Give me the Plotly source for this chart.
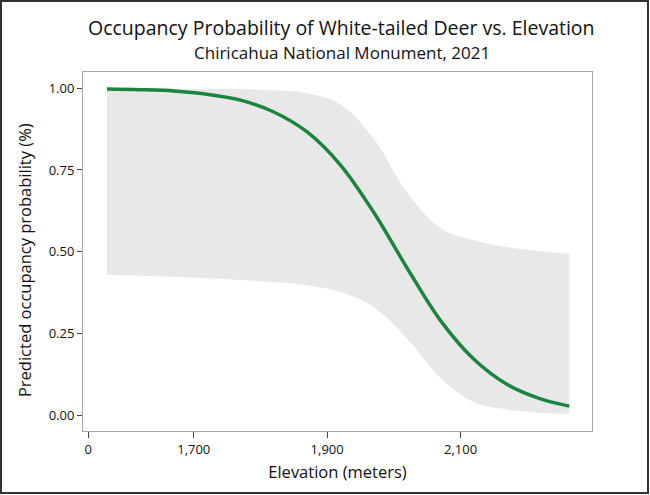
import plotly.graph_objects as go

# values
elevation = [1570, 1620, 1670, 1720, 1770, 1820, 1870, 1920, 1970, 2020, 2070, 2120, 2170, 2220, 2263]
occ_mean = [0.997, 0.995, 0.991, 0.981, 0.963, 0.927, 0.866, 0.765, 0.620, 0.450, 0.290, 0.172, 0.095, 0.051, 0.029]
occ_upper = [1.000, 0.999, 0.999, 0.998, 0.997, 0.993, 0.984, 0.950, 0.845, 0.680, 0.572, 0.535, 0.514, 0.502, 0.493]
occ_lower = [0.429, 0.427, 0.424, 0.419, 0.414, 0.408, 0.398, 0.378, 0.331, 0.235, 0.115, 0.041, 0.019, 0.008, 0.005]

# broken x axis: the "0" tick sits just right of the axis start
x_tickvals = [1542, 1700, 1900, 2100]
x_ticktext = ["0", "1,700", "1,900", "2,100"]
y_tickvals = [0, 0.25, 0.5, 0.75, 1.0]

FONT = "Open Sans"
INK = "#111"

fig = go.Figure()

# confidence band: lower edge, then upper edge filled down to it
fig.add_trace(go.Scatter(
    x=elevation, y=occ_lower,
    mode="lines", line=dict(width=0, shape="spline"),
    hoverinfo="skip", showlegend=False,
))
fig.add_trace(go.Scatter(
    x=elevation, y=occ_upper,
    mode="lines", line=dict(width=0, shape="spline"),
    fill="tonexty", fillcolor="#e8e8e8",
    hoverinfo="skip", showlegend=False,
))

fig.add_trace(go.Scatter(
    x=elevation, y=occ_mean,
    mode="lines",
    line=dict(color="#1b843f", width=3.5, shape="spline"),
    showlegend=False,
))

fig.update_layout(
    width=650, height=495,
    margin=dict(l=83, r=58, t=72, b=64),
    paper_bgcolor="white",
    plot_bgcolor="white",
    font=dict(family=FONT, color=INK),
    annotations=[
        dict(text="Occupancy Probability of White-tailed Deer vs. Elevation",
             x=0.508, y=1.1226, xref="paper", yref="paper", yanchor="middle",
             showarrow=False, font=dict(size=19.5, family=FONT, color=INK)),
        dict(text="Chiricahua National Monument, 2021",
             x=0.508, y=1.0557, xref="paper", yref="paper", yanchor="middle",
             showarrow=False, font=dict(size=17, family=FONT, color=INK)),
        dict(text="Predicted occupancy probability (%)", textangle=-90,
             x=-0.116, y=0.476, xref="paper", yref="paper",
             xanchor="center", yanchor="middle",
             showarrow=False, font=dict(size=16.5, family=FONT, color=INK)),
    ],
    shapes=[
        # dark frame around the whole picture
        dict(type="rect", xref="paper", yref="paper",
             x0=-0.1611, x1=1.1100, y0=-0.1727, y1=1.1978,
             line=dict(color="#333", width=2)),
    ],
)

fig.update_xaxes(
    range=[1534, 2297],
    tickvals=x_tickvals, ticktext=x_ticktext,
    ticks="outside", ticklen=6, tickcolor="#444", tickwidth=1,
    showline=True, mirror=True, linecolor="#a6a6a6", linewidth=1,
    showgrid=False, zeroline=False,
    tickfont=dict(size=13, family=FONT, color=INK),
    title=dict(text="Elevation (meters)", font=dict(size=16.5, family=FONT, color=INK), standoff=9),
)

fig.update_yaxes(
    range=[-0.047, 1.049],
    tickvals=y_tickvals, tickformat=".2f",
    ticks="outside", ticklen=5, tickcolor="#444", tickwidth=1,
    showline=True, mirror=True, linecolor="#a6a6a6", linewidth=1,
    showgrid=False, zeroline=False,
    tickfont=dict(size=13, family=FONT, color=INK),
)

fig.write_html("out.html", config={"displayModeBar": False},
               post_script="document.body.style.margin='0';")
